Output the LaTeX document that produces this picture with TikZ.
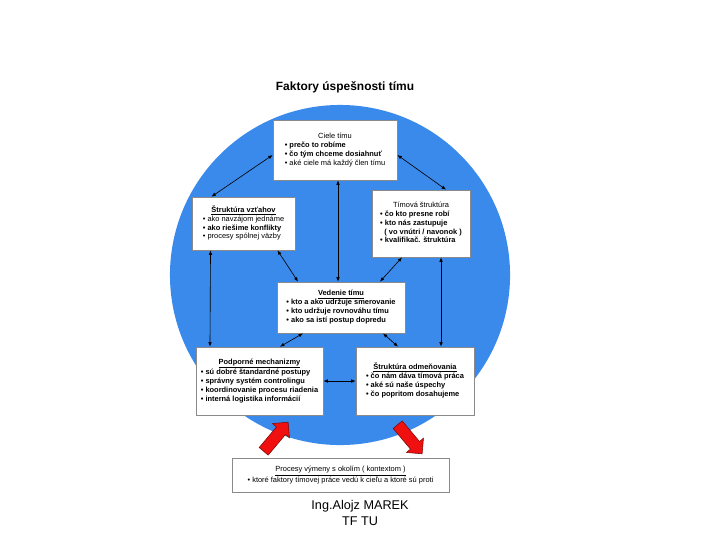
\documentclass[tikz,border=0pt]{standalone}
\usepackage{fontspec}
\setmainfont{Liberation Sans}
\usepackage{tikz}
\usetikzlibrary{arrows.meta, calc, shapes.arrows}
\definecolor{cblue}{HTML}{3A8AEC}
\definecolor{boxedge}{HTML}{8A8A8A}
\definecolor{ared}{HTML}{F01010}
\definecolor{aredk}{HTML}{7A0A0A}
\tikzset{
  factbox/.style  = {draw=boxedge, fill=white, line width=0.5pt, inner sep=1pt,
                     font=\fontsize{5.3}{6.3}\selectfont},
  link/.style     = {{Latex[length=1.1mm, width=0.9mm]}-{Latex[length=1.1mm, width=0.9mm]},
                     line width=0.45pt, draw=black},
  bigarrow/.style = {single arrow, fill=ared, draw=aredk, line width=0.4pt,
                     minimum height=0.95cm, minimum width=0pt,
                     single arrow head extend=0.13cm, inner xsep=0pt, inner ysep=0.14cm},
}
\newcommand{\factlist}[2]{%
  \begin{tabular}{@{}l@{}}\multicolumn{1}{@{}c@{}}{#1}\\#2\end{tabular}}
\begin{document}
\begin{tikzpicture}[x=0.025cm, y=-0.025cm]
  \useasboundingbox (0,0) rectangle (720,540);
  \fill[cblue] (340,275) circle[radius=4.25cm];
  \node[font=\fontsize{8.5}{10}\selectfont\bfseries] (title) at (345,87) {Faktory úspešnosti tímu};
  \node[factbox, minimum width=3.1cm, minimum height=1.5cm] (ciele) at (335,150)
    {\factlist{Ciele tímu}{\bfseries • prečo to robíme\\\bfseries • čo tým chceme dosiahnuť\\• aké ciele má každý člen tímu}};
  \node[factbox, minimum width=2.575cm, minimum height=1.325cm] (vztah) at (243.5,223.5)
    {\factlist{\bfseries\underline{Štruktúra vzťahov}}{• ako navzájom jednáme\\\bfseries • ako riešime konflikty\\• procesy spólnej väzby}};
  \node[factbox, minimum width=2.45cm, minimum height=1.675cm] (timova) at (421,223.5)
    {\factlist{Tímová štruktúra}{\bfseries • čo kto presne robí\\\bfseries • kto nás zastupuje\\\bfseries\ \ ( vo vnútri / navonok )\\\bfseries • kvalifikač. štruktúra}};
  \node[factbox, minimum width=3.2cm, minimum height=1.275cm] (vedenie) at (341,307.5)
    {\factlist{\bfseries\underline{Vedenie tímu}}{\bfseries • kto a ako udržuje smerovanie\\\bfseries • kto udržuje rovnováhu tímu\\\bfseries • ako sa istí postup dopredu}};
  \node[factbox, minimum width=3.175cm, minimum height=1.7cm] (podpor) at (259.5,381)
    {\factlist{\bfseries\underline{Podporné mechanizmy}}{\bfseries • sú dobré štandardné postupy\\\bfseries • správny systém controlingu\\\bfseries • koordinovanie procesu riadenia\\\bfseries • interná logistika informácií}};
  \node[factbox, minimum width=2.95cm, minimum height=1.7cm] (odmen) at (415,381)
    {\factlist{\bfseries\underline{Štruktúra odmeňovania}}{\bfseries • čo nám dáva tímová práca\\\bfseries • aké sú naše úspechy\\\bfseries • čo popritom dosahujeme}};
  \node[factbox, minimum width=5.425cm, minimum height=0.85cm] (procesy) at (340.5,475)
    {\factlist{\underline{Procesy výmeny s okolím ( kontextom )}}{• ktoré faktory tímovej práce vedú k cieľu a ktoré sú proti}};
  \draw[link] ($(ciele.west)+(0,5)$) -- ($(vztah.north)+(-32,0)$);
  \draw[link] ($(ciele.east)+(0,5)$) -- ($(timova.north)+(25,0)$);
  \draw[link] ($(ciele.south)+(3,0)$) -- ($(vedenie.north)+(-3,0)$);
  \draw[link] ($(vztah.south)+(34,0)$) -- ($(vedenie.north)+(-43,0)$);
  \draw[link] ($(timova.south)+(-19,0)$) -- ($(vedenie.north)+(39,0)$);
  \draw[link] ($(vztah.south)+(-33,0)$) -- ($(podpor.north)+(-49.5,0)$);
  \draw[link] ($(timova.south)+(20,0)$) -- ($(odmen.north)+(26,0)$);
  \draw[link] ($(vedenie.south)+(-38,0)$) -- ($(podpor.north)+(20.5,0)$);
  \draw[link] ($(vedenie.south)+(42,0)$) -- ($(odmen.north)+(-17,0)$);
  \draw[link] (podpor.east) -- (odmen.west);
  \node[bigarrow, rotate=50] (inflow) at (274,439) {};
  \node[bigarrow, rotate=-50] (outflow) at (408,437) {};
  \node[font=\fontsize{9}{11.4}\selectfont, align=center] (author) at (360,513) {Ing.Alojz MAREK\\TF TU};
\end{tikzpicture}
\end{document}
